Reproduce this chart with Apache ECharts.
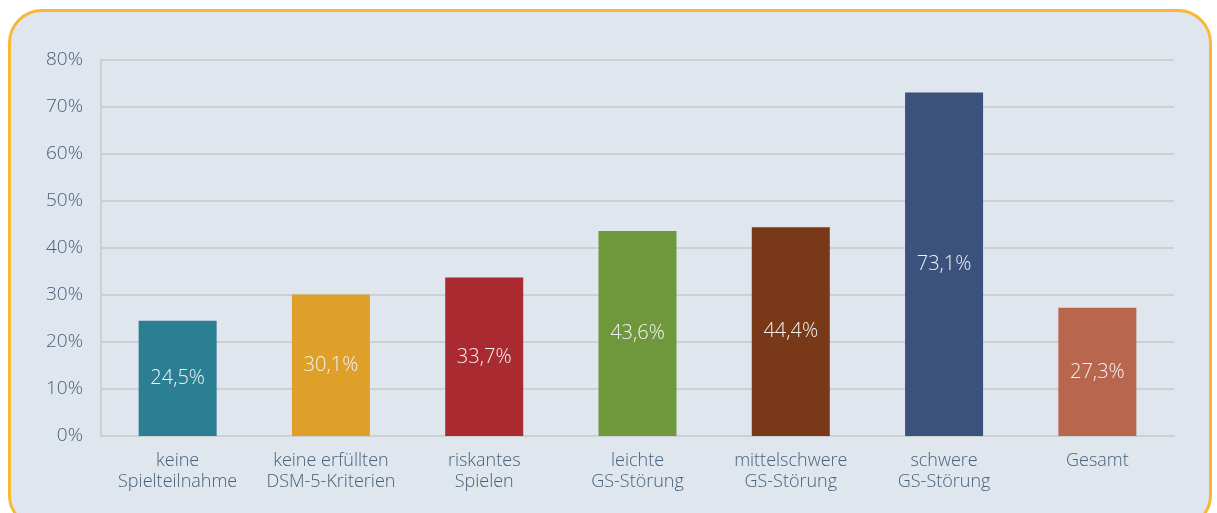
<!DOCTYPE html>
<html><head><meta charset="utf-8">
<script src="https://cdn.jsdelivr.net/npm/echarts@6/dist/echarts.min.js"></script>
<style>
html,body{margin:0;padding:0;background:#ffffff;width:1217px;height:513px;overflow:hidden;}
#frame{position:absolute;left:8px;top:9px;width:1204px;height:520px;box-sizing:border-box;border:3px solid #f9b733;border-radius:34px;background:#dfe6ee;}
#chart{position:absolute;left:0;top:0;width:1217px;height:513px;}
</style></head>
<body>
<div id="frame"></div>
<div id="chart"></div>
<script>
const categories = ["keine\nSpielteilnahme","keine erfüllten\nDSM-5-Kriterien","riskantes\nSpielen","leichte\nGS-Störung","mittelschwere\nGS-Störung","schwere\nGS-Störung","Gesamt"];
const values = [24.5, 30.1, 33.7, 43.6, 44.4, 73.1, 27.3];
const barColors = ["#2b7f93","#dea029","#a92b31","#6f983c","#793817","#3a527c","#b9664e"];
const yTicks = [0,10,20,30,40,50,60,70,80];

const chart = echarts.init(document.getElementById('chart'), null, {renderer:'canvas'});
const fontFamily = '"Open Sans", sans-serif';
chart.setOption({
  backgroundColor: 'transparent',
  animation: false,
  grid: {left: 101, right: 43, top: 60, bottom: 77, containLabel: false},
  xAxis: {
    type: 'category',
    data: categories,
    axisLine: {show: true, lineStyle: {color: '#cdd0d3', width: 2}},
    axisTick: {show: false},
    axisLabel: {color: '#48617a', fontSize: 18, fontWeight: 300, fontFamily: fontFamily, lineHeight: 21, margin: 14, interval: 0}
  },
  yAxis: {
    type: 'value',
    min: yTicks[0], max: yTicks[yTicks.length-1], interval: 10,
    axisLine: {show: true, lineStyle: {color: '#cdd0d3', width: 2}},
    axisTick: {show: false},
    splitLine: {show: true, lineStyle: {color: '#cdd0d3', width: 2}},
    axisLabel: {color: '#48617a', fontSize: 19, fontWeight: 300, fontFamily: fontFamily, margin: 18, formatter: v => v + '%'}
  },
  series: [{
    type: 'bar',
    data: values.map((v, i) => ({value: v, itemStyle: {color: barColors[i]}})),
    barWidth: 78,
    label: {
      show: true, position: 'inside', color: '#f2f2f2', fontSize: 20, fontWeight: 300, fontFamily: fontFamily,
      formatter: p => p.value.toFixed(1).replace('.', ',') + '%'
    }
  }]
});
</script>
</body></html>
